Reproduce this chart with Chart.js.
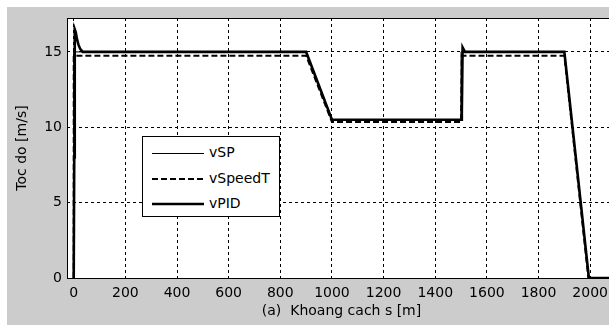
<!DOCTYPE html>
<html>
<head>
<meta charset="utf-8">
<script src="https://cdn.jsdelivr.net/npm/chart.js@4/dist/chart.umd.min.js"></script>
<style>
  html, body { margin: 0; padding: 0; background: #fff; overflow: hidden; }
  #wrap { position: relative; width: 609px; height: 327px; overflow: hidden; }
  #speedChart { position: absolute; left: 0; top: 0; }
  #legendBox {
    position: absolute; left: 142px; top: 136px; width: 136px; height: 79px;
    background: #fff; border: 1px solid #000; font: 14px "DejaVu Sans", sans-serif; color: #000;
  }
  .row { position: absolute; left: 0; height: 20px; }
  .row svg { position: absolute; left: 9px; top: 0; }
  .row span { position: absolute; left: 66px; top: 1px; white-space: nowrap; }
</style>
</head>
<body>
<div id="wrap">
  <canvas id="speedChart" width="640" height="327"></canvas>
  <div id="legendBox"></div>
</div>
<script>
// series names
var seriesNames = ['vSP', 'vSpeedT', 'vPID'];

// vSP (set point)
var spDist = [0, 0, 900, 1000, 1500, 1500, 1900, 1995, 2100];
var spSpeed = [0, 15, 15, 10.5, 10.5, 15, 15, 0, 0];

// vSpeedT
var stDist = [0, 0, 900, 1000, 1500, 1503, 1900, 1993, 2100];
var stSpeed = [0, 14.75, 14.75, 10.35, 10.35, 14.75, 14.75, 0, 0];

// vPID
var pidDist = [0, 2, 4, 8, 12, 18, 25, 35, 900, 1000, 1500, 1503, 1506, 1515, 1900, 1995, 2100];
var pidSpeed = [0, 8, 16.5, 16.3, 15.9, 15.5, 15.2, 15, 15, 10.5, 10.5, 11, 15.3, 15, 15, 0, 0];

var yTicks = [0, 5, 10, 15];
var xLabel = '(a)  Khoang cach s [m]';
var yLabel = 'Toc do [m/s]';

function toPoints(xs, ys) {
    var pts = [];
    for (var i = 0; i < xs.length; i++) {
        pts.push({ x: xs[i], y: ys[i] });
    }
    return pts;
}

var styles = [
    { width: 1, dash: [] },
    { width: 2, dash: [6, 3] },
    { width: 2.6, dash: [] }
];

var figureBg = {
    id: 'figureBg',
    beforeDraw: function (chart) {
        var ctx = chart.ctx;
        var a = chart.chartArea;
        ctx.save();
        ctx.fillStyle = '#cccccc';
        ctx.fillRect(7, 7, chart.width - 7, 318);
        ctx.fillStyle = '#ffffff';
        ctx.fillRect(a.left, a.top, a.right - a.left, a.bottom - a.top);
        ctx.restore();
    },
    afterDatasetsDraw: function (chart) {
        var ctx = chart.ctx;
        var a = chart.chartArea;
        ctx.save();
        ctx.strokeStyle = '#000';
        ctx.lineWidth = 1;
        ctx.strokeRect(a.left + 0.5, a.top + 0.5, a.right - a.left, a.bottom - a.top);
        ctx.restore();
    }
};

var ctx = document.getElementById('speedChart').getContext('2d');
var allDist = [spDist, stDist, pidDist];
var allSpeed = [spSpeed, stSpeed, pidSpeed];
var datasets = [];
for (var i = 0; i < seriesNames.length; i++) {
    datasets.push({
        label: seriesNames[i],
        data: toPoints(allDist[i], allSpeed[i]),
        borderColor: '#000',
        borderWidth: styles[i].width,
        borderDash: styles[i].dash,
        pointRadius: 0,
        tension: 0,
        fill: false
    });
}

var tickFont = { family: 'DejaVu Sans', size: 14 };
var plainLabel = function (value) { return String(value); };

var speedChart = new Chart(ctx, {
    type: 'line',
    data: { datasets: datasets },
    plugins: [figureBg],
    options: {
        responsive: false,
        animation: false,
        layout: { padding: { left: 0, top: 18, right: 24, bottom: 0 } },
        plugins: { legend: { display: false }, tooltip: { enabled: false } },
        scales: {
            x: {
                type: 'linear',
                min: -26,
                max: 2100,
                afterFit: function (scale) { scale.height = 49; },
                ticks: { stepSize: 200, includeBounds: false, color: '#000', font: tickFont, padding: 7, maxRotation: 0, callback: plainLabel },
                grid: { color: '#000', lineWidth: 1, drawTicks: false },
                border: { display: false, dash: [3, 3] },
                title: { display: true, text: xLabel, color: '#000', font: tickFont, padding: { top: 0, bottom: 7 } }
            },
            y: {
                min: 0,
                max: 17.25,
                afterFit: function (scale) { scale.width = 67; },
                afterBuildTicks: function (scale) {
                    scale.ticks = yTicks.map(function (v) { return { value: v }; });
                },
                ticks: { color: '#000', font: tickFont, padding: 5, callback: plainLabel },
                grid: { color: '#000', lineWidth: 1, drawTicks: false },
                border: { display: false, dash: [3, 3] },
                title: { display: true, text: yLabel, color: '#000', font: tickFont, padding: { top: 14, bottom: 0 } }
            }
        }
    }
});

// legend drawn from the dataset styles
var legendBox = document.getElementById('legendBox');
var rowTops = [6, 32, 57];
for (var j = 0; j < seriesNames.length; j++) {
    var row = document.createElement('div');
    row.className = 'row';
    row.style.top = rowTops[j] + 'px';
    row.style.width = '100%';
    var dash = styles[j].dash.length ? ' stroke-dasharray="' + styles[j].dash.join(',') + '"' : '';
    var yy = styles[j].width % 2 === 1 ? 10.5 : 10;
    row.innerHTML = '<svg width="52" height="20"><line x1="0" y1="' + yy + '" x2="52" y2="' + yy + '" stroke="#000" stroke-width="' +
        styles[j].width + '"' + dash + '/></svg><span>' + seriesNames[j] + '</span>';
    legendBox.appendChild(row);
}
</script>
</body>
</html>
